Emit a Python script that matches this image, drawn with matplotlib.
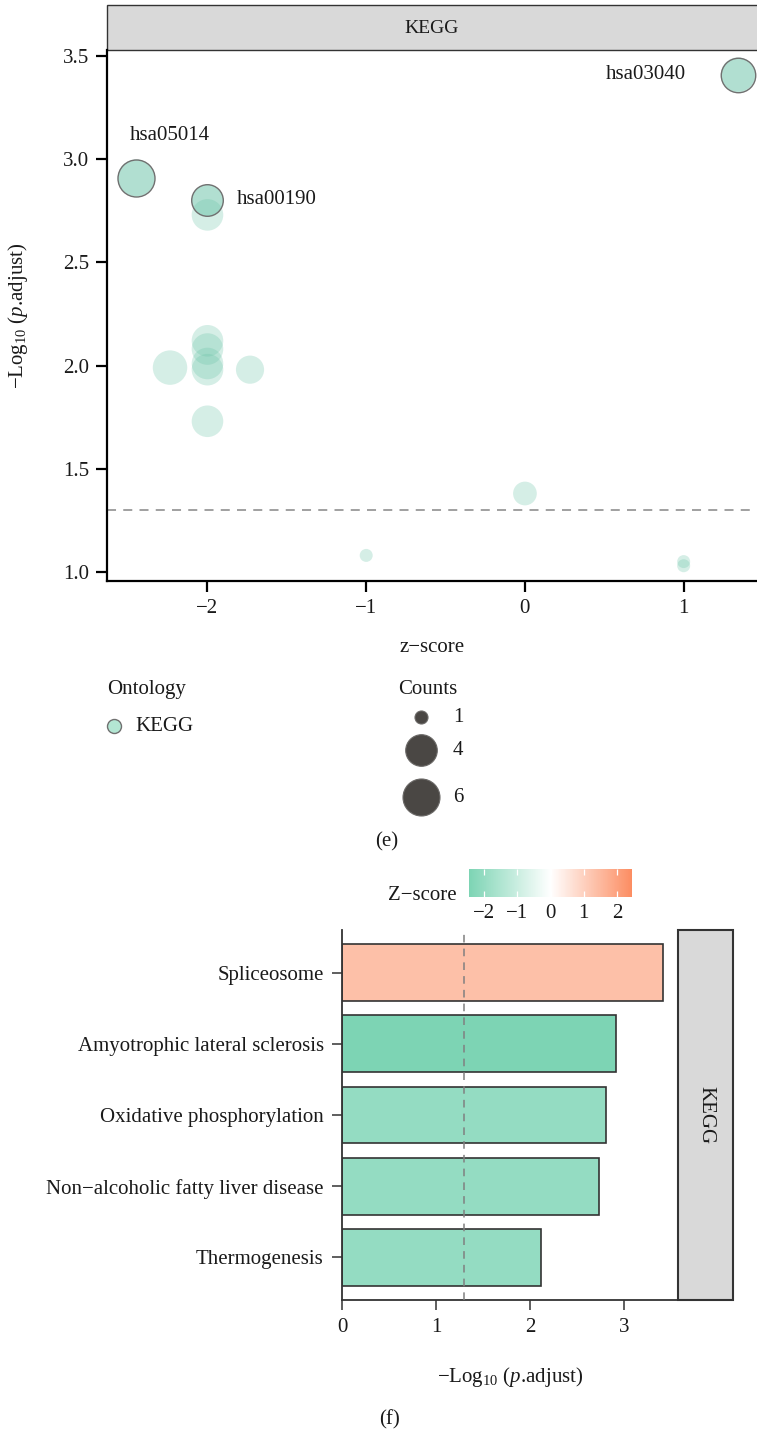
import numpy as np
import matplotlib
matplotlib.use("Agg")
import matplotlib.pyplot as plt
from matplotlib.colors import LinearSegmentedColormap, Normalize
from matplotlib.patches import Rectangle
import matplotlib.cm as cm

plt.rcParams['font.family'] = ['Liberation Serif', 'DejaVu Serif']
plt.rcParams['mathtext.fontset'] = 'custom'
plt.rcParams['mathtext.rm'] = 'Liberation Serif'
plt.rcParams['mathtext.it'] = 'Liberation Serif:italic'
plt.rcParams['axes.unicode_minus'] = True

# ---------------- data ----------------
# bubble panel (e)
bub_z = [1.342, -2.449, -2.0, -2.0, -2.0, -2.0, -2.0, -2.0, -2.236, -1.732, -2.0, 0.0, -1.0, 1.0, 1.0]
bub_logp = [3.41, 2.91, 2.80, 2.73, 2.12, 2.08, 2.01, 1.98, 1.99, 1.98, 1.73, 1.38, 1.08, 1.05, 1.03]
bub_count = [5, 6, 4, 4, 4, 4, 4, 4, 5, 3, 4, 2, 1, 1, 1]
bub_label = ["hsa03040", "hsa05014", "hsa00190", "", "", "", "", "", "", "", "", "", "", "", ""]
label_offset_px = {"hsa03040": (-52, 0, 'right', 'center'),
                   "hsa05014": (-6, 42, 'left', 'center'),
                   "hsa00190": (29, 1, 'left', 'center')}
x_ticks_e = [-2, -1, 0, 1]
y_ticks_e = [1.0, 1.5, 2.0, 2.5, 3.0, 3.5]
legend_counts = [1, 4, 6]
cutoff = 1.30

# bar panel (f)
bar_terms = ["Spliceosome", "Amyotrophic lateral sclerosis", "Oxidative phosphorylation",
             "Non\u2212alcoholic fatty liver disease", "Thermogenesis"]
bar_logp = [3.41, 2.91, 2.81, 2.73, 2.12]
bar_z = [1.342, -2.449, -2.0, -2.0, -2.0]
x_ticks_f = [0, 1, 2, 3]
cbar_ticks = [-2, -1, 0, 1, 2]

# ---------------- figure ----------------
W, H = 757, 1433
fig = plt.figure(figsize=(W / 100, H / 100), dpi=100)
TXT = '#1a1a1a'
FS = 15


def px(l, t, r, b):
    return [l / W, 1 - b / H, (r - l) / W, (b - t) / H]


def size_px(c):
    return 13 + 24 * np.sqrt((np.asarray(c, float) - 1) / 5.0)


def s_pts(c):
    return (size_px(c) * 0.72) ** 2


def fmt_int(t):
    return f"{t:d}".replace('-', '\u2212')


kegg = '#66c2a5'

# overlay axes for strips and legends (pixel coords)
ov = fig.add_axes([0, 0, 1, 1], zorder=0)
ov.set_xlim(0, W)
ov.set_ylim(H, 0)
ov.axis('off')

# ---- panel (e) ----
E_L, E_T, E_R, E_B = 107, 50, 757, 581
ax = fig.add_axes(px(E_L, E_T, E_R, E_B), zorder=2)
ax.patch.set_alpha(0)
ax.set_xlim(-2.633, 1.462)
ax.set_ylim(0.956, 3.529)
ax.axhline(cutoff, color='#999999', lw=1.3, ls=(0, (5, 4)), zorder=1)
ax.scatter(bub_z, bub_logp, s=s_pts(bub_count), color=kegg, alpha=0.27,
           linewidths=0, zorder=2)
for z, lp, c, lab in zip(bub_z, bub_logp, bub_count, bub_label):
    if lab:
        ax.scatter([z], [lp], s=s_pts([c]), facecolor=(0.4, 0.76, 0.65, 0.32),
                   edgecolor='#707070', linewidths=1.0, zorder=3)
        dx, dy, ha, va = label_offset_px[lab]
        ax.annotate(lab, (z, lp), xytext=(dx * 0.72, dy * 0.72), textcoords='offset points',
                    ha=ha, va=va, fontsize=FS, color=TXT, zorder=4)
for sp in ['top', 'right']:
    ax.spines[sp].set_visible(False)
for sp in ['left', 'bottom']:
    ax.spines[sp].set_linewidth(1.6)
    ax.spines[sp].set_color('black')
ax.set_xticks(x_ticks_e)
ax.set_xticklabels([fmt_int(t) for t in x_ticks_e])
ax.set_yticks(y_ticks_e)
ax.set_yticklabels([f"{t:.1f}" for t in y_ticks_e])
ax.tick_params(length=8, width=1.6, labelsize=FS, colors='black', labelcolor=TXT, pad=5)
ax.set_xlabel("z\u2212score", fontsize=FS, color=TXT)
ax.xaxis.set_label_coords(0.5, -(648 - E_B) / (E_B - E_T))
ax.xaxis.label.set_va('center')
ax.set_ylabel("\u2212Log$_{10}$ ($\\mathit{p}$.adjust)", fontsize=FS, color=TXT)
ax.yaxis.set_label_coords(-(E_L - 18) / (E_R - E_L), 0.5)
ax.yaxis.label.set_va('center')

# top strip
ov.add_patch(Rectangle((E_L, 5), 700, 45, facecolor='#d9d9d9', edgecolor='#333333', lw=1.0))
ov.text(432, 28, "KEGG", ha='center', va='center', fontsize=14, color=TXT)

# legends for (e)
ov.text(107, 689, "Ontology", ha='left', va='center', fontsize=FS, color=TXT)
ov.scatter([114], [726], s=(14 * 0.72) ** 2, facecolor='#b3e6d3', edgecolor='#707070', lw=1.0)
ov.text(135, 726, "KEGG", ha='left', va='center', fontsize=FS, color=TXT)
ov.text(398, 689, "Counts", ha='left', va='center', fontsize=FS, color=TXT)
leg_y = [717, 750, 797]
for c, yy in zip(legend_counts, leg_y):
    ov.scatter([421], [yy], s=s_pts([c]), facecolor='#4a4744', edgecolor='#6a6866', lw=0.8)
    ov.text(453, yy, str(c), ha='left', va='center', fontsize=FS, color=TXT)
ov.text(387, 842, "(e)", ha='center', va='center', fontsize=FS, color=TXT)

# ---- panel (f) ----
low, high = '#7dd4b4', '#fc8d62'
cmap = LinearSegmentedColormap.from_list('zs', [low, '#ffffff', high])
zlim = max(abs(v) for v in bar_z)
norm = Normalize(-zlim, zlim)

F_L, F_T, F_R, F_B = 342, 930, 678, 1300
ax2 = fig.add_axes(px(F_L, F_T, F_R, F_B), zorder=2)
ax2.patch.set_alpha(0)
ypos = np.arange(len(bar_terms))
ax2.barh(ypos, bar_logp, height=0.8, color=cmap(norm(bar_z)), edgecolor='#333333',
         linewidth=1.2, zorder=2)
ax2.axvline(cutoff, color='#808080', lw=1.1, ls=(0, (5, 4)), zorder=3)
ax2.set_ylim(len(bar_terms) - 0.4, -0.6)
ax2.set_xlim(0, 3.574)
ax2.set_yticks(ypos)
ax2.set_yticklabels(bar_terms)
ax2.set_xticks(x_ticks_f)
for sp in ['top', 'right']:
    ax2.spines[sp].set_visible(False)
for sp in ['left', 'bottom']:
    ax2.spines[sp].set_linewidth(1.3)
    ax2.spines[sp].set_color('#333333')
ax2.tick_params(length=7.2, width=1.1, labelsize=FS, colors='#333333', labelcolor=TXT)
ax2.tick_params(axis='y', pad=6)
ax2.tick_params(axis='x', pad=6)
ax2.set_xlabel("\u2212Log$_{10}$ ($\\mathit{p}$.adjust)", fontsize=FS, color=TXT)
ax2.xaxis.set_label_coords(0.5, -(1377 - F_B) / (F_B - F_T))
ax2.xaxis.label.set_va('center')

# right strip
ov.add_patch(Rectangle((F_R, F_T), 55, F_B - F_T, facecolor='#d9d9d9', edgecolor='#333333', lw=1.5))
ov.text(705.5, 1115, "KEGG", ha='center', va='center', rotation=-90, fontsize=FS, color=TXT)
ov.text(390, 1420, "(f)", ha='center', va='center', fontsize=FS, color=TXT)

# colorbar
cax = fig.add_axes(px(469, 869, 632, 897), zorder=3)
sm = cm.ScalarMappable(norm=norm, cmap=cmap)
cb = fig.colorbar(sm, cax=cax, orientation='horizontal')
cb.outline.set_visible(False)
cb.set_ticks(cbar_ticks)
cb.set_ticklabels([fmt_int(t) for t in cbar_ticks])
cax.tick_params(axis='x', direction='in', top=True, bottom=True, length=4, width=0.9,
                color='white', labelsize=FS, labelcolor=TXT, pad=5)
ov.text(457, 895, "Z\u2212score", ha='right', va='center', fontsize=FS, color=TXT)

fig.savefig("out.png", dpi=100)
